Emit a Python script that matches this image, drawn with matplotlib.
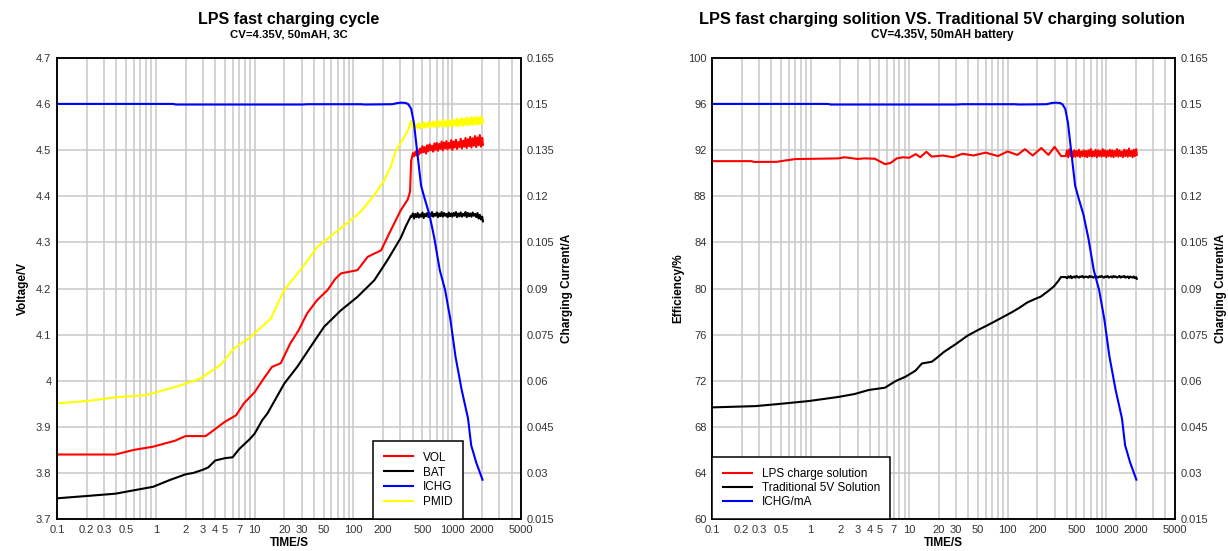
import numpy as np
import matplotlib
matplotlib.use("Agg")
import matplotlib.pyplot as plt
from matplotlib.ticker import LogLocator, NullFormatter

plt.rcParams['font.family'] = ['Liberation Sans', 'DejaVu Sans']

# ---- data ----
# shared charge current (A)
t_ichg = [0.1, 1.5, 1.6, 30, 35, 120, 130, 250, 280, 310, 340, 360, 385, 410, 445, 485,
          525, 590, 660, 750, 850, 960, 1080, 1250, 1450, 1560, 1750, 2030]
ichg = [0.1501, 0.1501, 0.1499, 0.1499, 0.1500, 0.1500, 0.1499, 0.1500, 0.1504, 0.1505,
        0.1504, 0.1500, 0.1485, 0.1440, 0.1340, 0.1235, 0.1195, 0.1140, 0.1065, 0.0960,
        0.0895, 0.0800, 0.0680, 0.0570, 0.0477, 0.0390, 0.0335, 0.0278]

# time points of the noisy plateau part (s)
t_tail = [390, 401, 412, 424, 436, 448, 461, 474, 487, 501,
          515, 530, 545, 560, 576, 592, 609, 626, 644, 662,
          681, 700, 720, 740, 761, 783, 805, 828, 851, 875,
          900, 925, 951, 978, 1006, 1034, 1063, 1093, 1124, 1156,
          1189, 1222, 1257, 1292, 1329, 1366, 1405, 1445, 1485, 1527,
          1570, 1615, 1660, 1707, 1755, 1805, 1856, 1908, 1962, 2017,
          2050]

# left chart (V)
t_vol = [0.1, 0.39, 0.6, 0.94, 1.57, 2.0, 3.2, 3.87, 5.0, 5.7, 6.5, 7.8, 10, 12.4, 15,
         18.4, 23, 28, 34, 43, 55, 65, 75, 110, 140, 191, 240, 302, 355, 375, 385]
vol = [3.840, 3.840, 3.850, 3.857, 3.870, 3.880, 3.880, 3.893, 3.911, 3.918, 3.925, 3.951,
       3.975, 4.005, 4.030, 4.038, 4.081, 4.110, 4.146, 4.175, 4.197, 4.220, 4.233, 4.240,
       4.269, 4.283, 4.327, 4.370, 4.393, 4.410, 4.478]
vol_tail = [4.482, 4.494, 4.487, 4.497, 4.489, 4.501, 4.491, 4.504, 4.494, 4.509,
            4.496, 4.507, 4.493, 4.511, 4.498, 4.513, 4.500, 4.510, 4.497, 4.515,
            4.501, 4.516, 4.499, 4.514, 4.503, 4.519, 4.500, 4.517, 4.504, 4.520,
            4.502, 4.516, 4.505, 4.522, 4.501, 4.519, 4.506, 4.523, 4.503, 4.518,
            4.507, 4.525, 4.504, 4.521, 4.508, 4.527, 4.505, 4.524, 4.509, 4.529,
            4.506, 4.526, 4.510, 4.531, 4.507, 4.528, 4.511, 4.533, 4.508, 4.527,
            4.512]

t_bat = [0.1, 0.2, 0.39, 0.94, 1.4, 2.0, 2.4, 3.0, 3.4, 4.0, 5.0, 6.0, 7.0, 9.0, 10.0,
         12.0, 13.5, 20, 27, 37, 50.5, 75, 110, 163, 222, 302, 341, 384]
bat = [3.745, 3.750, 3.755, 3.770, 3.785, 3.797, 3.800, 3.807, 3.812, 3.827, 3.832, 3.834,
       3.852, 3.874, 3.885, 3.915, 3.929, 3.994, 4.030, 4.074, 4.117, 4.153, 4.182, 4.218,
       4.262, 4.310, 4.336, 4.358]
bat_tail = [4.356, 4.363, 4.352, 4.362, 4.355, 4.364, 4.354, 4.361, 4.356, 4.365,
            4.353, 4.362, 4.357, 4.364, 4.355, 4.363, 4.357, 4.366, 4.356, 4.362,
            4.358, 4.365, 4.355, 4.363, 4.357, 4.366, 4.356, 4.364, 4.358, 4.362,
            4.355, 4.365, 4.357, 4.363, 4.356, 4.364, 4.358, 4.366, 4.355, 4.363,
            4.357, 4.365, 4.356, 4.362, 4.358, 4.366, 4.355, 4.364, 4.357, 4.363,
            4.356, 4.365, 4.358, 4.362, 4.355, 4.364, 4.352, 4.360, 4.350, 4.356,
            4.346]

t_pmid = [0.1, 0.2, 0.39, 0.81, 1.78, 2.83, 4.5, 6.2, 9.1, 14.6, 20, 29, 43, 64, 90, 119,
          163, 205, 240, 270, 300, 329, 360, 384]
pmid = [3.951, 3.956, 3.964, 3.969, 3.990, 4.005, 4.034, 4.070, 4.095, 4.135, 4.197, 4.240,
        4.290, 4.320, 4.345, 4.367, 4.403, 4.435, 4.465, 4.500, 4.515, 4.529, 4.545, 4.564]
pmid_tail = [4.560, 4.548, 4.557, 4.546, 4.555, 4.549, 4.559, 4.547, 4.557, 4.550,
             4.561, 4.549, 4.558, 4.551, 4.562, 4.550, 4.559, 4.552, 4.563, 4.550,
             4.561, 4.553, 4.565, 4.551, 4.562, 4.553, 4.566, 4.552, 4.563, 4.551,
             4.566, 4.553, 4.564, 4.552, 4.567, 4.554, 4.565, 4.553, 4.569, 4.552,
             4.567, 4.555, 4.570, 4.553, 4.568, 4.556, 4.571, 4.554, 4.569, 4.556,
             4.572, 4.555, 4.570, 4.557, 4.573, 4.556, 4.571, 4.557, 4.574, 4.558,
             4.566]

# right chart (efficiency %)
t_lps = [0.1, 0.25, 0.27, 0.45, 0.7, 1.93, 2.2, 3.0, 3.5, 4.5, 5.7, 6.5, 7.5, 8.7, 10,
         11.7, 13, 15, 17, 22, 28, 35, 45, 60, 80, 100, 126, 150, 180, 220, 260, 300, 350]
lps = [91.06, 91.06, 90.99, 91.00, 91.24, 91.30, 91.40, 91.25, 91.30, 91.27, 90.80, 90.90,
       91.30, 91.40, 91.35, 91.67, 91.40, 91.87, 91.45, 91.55, 91.40, 91.70, 91.55, 91.80,
       91.50, 91.90, 91.60, 92.10, 91.55, 92.20, 91.60, 92.30, 91.50]
lps_tail = [91.5, 92.0, 91.4, 92.1, 91.5, 91.9, 91.4, 92.0, 91.45, 91.95,
            91.5, 92.05, 91.4, 91.9, 91.5, 92.0, 91.45, 91.95, 91.4, 92.0,
            91.5, 92.1, 91.45, 91.9, 91.5, 92.05, 91.4, 92.0, 91.5, 91.95,
            91.45, 92.1, 91.5, 92.0, 91.4, 91.95, 91.5, 92.05, 91.45, 92.0,
            91.4, 91.95, 91.5, 92.1, 91.45, 92.0, 91.5, 91.9, 91.4, 92.05,
            91.5, 92.0, 91.45, 92.15, 91.5, 91.95, 91.4, 92.05, 91.5, 92.1,
            91.6]

t_trad = [0.1, 0.275, 0.47, 0.96, 1.93, 2.8, 3.9, 5.7, 7.3, 9.2, 11.6, 13.5, 17, 18.6, 22.6,
          30, 39, 50, 62, 80, 108, 130, 159, 190, 217, 260, 296, 330, 348]
trad = [69.69, 69.80, 69.98, 70.24, 70.60, 70.85, 71.20, 71.40, 71.97, 72.35, 72.87, 73.50,
        73.65, 73.90, 74.50, 75.20, 75.90, 76.40, 76.80, 77.30, 77.90, 78.30, 78.80, 79.10,
        79.30, 79.80, 80.20, 80.70, 81.00]
trad_tail = [81.0, 80.9, 81.05, 80.95, 81.1, 80.9, 81.0, 81.05, 80.95, 81.1,
             81.0, 80.95, 81.05, 81.0, 81.1, 80.95, 81.0, 81.05, 81.0, 80.95,
             81.1, 81.0, 81.05, 80.95, 81.0, 81.1, 81.0, 80.95, 81.05, 81.0,
             81.1, 81.0, 80.95, 81.05, 81.0, 81.1, 80.95, 81.0, 81.05, 80.95,
             81.1, 81.0, 81.05, 80.95, 81.0, 81.1, 80.95, 81.05, 81.0, 81.1,
             80.95, 81.0, 81.05, 80.9, 81.05, 81.0, 80.95, 81.05, 80.9, 81.0,
             80.85]

xtick_vals = [0.1, 0.2, 0.3, 0.5, 1, 2, 3, 4, 5, 7, 10, 20, 30, 50, 100, 200, 500, 1000, 2000, 5000]
xtick_labels = ['0.1', '0.2', '0.3', '0.5', '1', '2', '3', '4', '5', '7', '10', '20', '30', '50',
                '100', '200', '500', '1000', '2000', '5000']
cur_ticks = [0.015, 0.03, 0.045, 0.06, 0.075, 0.09, 0.105, 0.12, 0.135, 0.15, 0.165]
cur_labels = ['0.015', '0.03', '0.045', '0.06', '0.075', '0.09', '0.105', '0.12', '0.135', '0.15', '0.165']
volt_ticks = [3.7, 3.8, 3.9, 4.0, 4.1, 4.2, 4.3, 4.4, 4.5, 4.6, 4.7]
volt_labels = ['3.7', '3.8', '3.9', '4', '4.1', '4.2', '4.3', '4.4', '4.5', '4.6', '4.7']
eff_ticks = [60, 64, 68, 72, 76, 80, 84, 88, 92, 96, 100]

GRID = '#c8c8c8'
TXT = '#333333'
LW = 1.5


def style(ax, ax2, yt, ylab, ylim):
    ax.set_xscale('log')
    ax.set_xlim(0.1, 5000)
    ax.set_ylim(*ylim)
    ax.set_xticks(xtick_vals)
    ax.set_xticklabels(xtick_labels)
    ax.xaxis.set_minor_locator(LogLocator(base=10, subs=np.arange(1, 10), numticks=20))
    ax.xaxis.set_minor_formatter(NullFormatter())
    ax.set_yticks(yt)
    ax.set_yticklabels(ylab)
    ax.grid(True, which='both', color=GRID, linewidth=1.1)
    ax.set_axisbelow(True)
    ax.tick_params(which='both', length=0, labelsize=8, colors=TXT, pad=4)
    ax2.set_ylim(0.015, 0.165)
    ax2.set_yticks(cur_ticks)
    ax2.set_yticklabels(cur_labels)
    ax2.tick_params(length=0, labelsize=8, colors=TXT, pad=4)
    for a in (ax, ax2):
        for s in a.spines.values():
            s.set_linewidth(1.1)
            s.set_color('black')
    ax.set_xlabel('TIME/S', fontsize=8.5, fontweight='bold', labelpad=2)
    ax2.set_ylabel('Charging Current/A', fontsize=8.5, fontweight='bold', labelpad=5)


fig = plt.figure(figsize=(12.28, 5.51), dpi=100)
axL = fig.add_axes([0.0464, 0.058, 0.378, 0.8365])
axL2 = axL.twinx()
axR = fig.add_axes([0.5798, 0.058, 0.377, 0.8365])
axR2 = axR.twinx()

# left chart
axL.plot(t_pmid + t_tail, pmid + pmid_tail, color='#ffff00', lw=LW, label='PMID')
axL.plot(t_vol + t_tail, vol + vol_tail, color='#ff0000', lw=LW, label='VOL')
axL.plot(t_bat + t_tail, bat + bat_tail, color='black', lw=LW, label='BAT')
axL2.plot(t_ichg, ichg, color='#0000ff', lw=LW, label='ICHG')
style(axL, axL2, volt_ticks, volt_labels, (3.7, 4.7))
axL.set_ylabel('Voltage/V', fontsize=8.5, fontweight='bold', labelpad=5)

hL = {l.get_label(): l for l in axL.get_lines() + axL2.get_lines()}
leg = axL2.legend([hL['VOL'], hL['BAT'], hL['ICHG'], hL['PMID']], ['VOL', 'BAT', 'ICHG', 'PMID'],
                  loc='lower left', bbox_to_anchor=(0.681, 0.0), borderaxespad=0, fontsize=8.5,
                  fancybox=False, framealpha=1, edgecolor='black', handlelength=2.5,
                  borderpad=0.9, labelspacing=0.25, handletextpad=0.8)
leg.get_frame().set_linewidth(1.1)

# right chart
axR.plot(t_lps + t_tail, lps + lps_tail, color='#ff0000', lw=LW, label='LPS charge solution')
axR.plot(t_trad + t_tail, trad + trad_tail, color='black', lw=LW, label='Traditional 5V Solution')
axR2.plot(t_ichg, ichg, color='#0000ff', lw=LW, label='ICHG/mA')
style(axR, axR2, eff_ticks, [str(v) for v in eff_ticks], (60, 100))
axR.set_ylabel('Efficiency/%', fontsize=8.5, fontweight='bold', labelpad=3)

hR = axR.get_lines() + axR2.get_lines()
leg2 = axR2.legend(hR, [l.get_label() for l in hR], loc='lower left', bbox_to_anchor=(0.0, 0.0),
                   borderaxespad=0, fontsize=8.5, fancybox=False, framealpha=1, edgecolor='black',
                   handlelength=2.5, borderpad=0.9, labelspacing=0.2, handletextpad=0.8)
leg2.get_frame().set_linewidth(1.1)

# titles
fig.text(0.235, 0.965, 'LPS fast charging cycle', ha='center', va='center',
         fontsize=11.5, fontweight='bold')
fig.text(0.235, 0.937, 'CV=4.35V, 50mAH, 3C', ha='center', va='center',
         fontsize=8.2, fontweight='bold')
fig.text(0.767, 0.965, 'LPS fast charging solition VS. Traditional 5V charging solution',
         ha='center', va='center', fontsize=11.8, fontweight='bold')
fig.text(0.767, 0.937, 'CV=4.35V, 50mAH battery', ha='center', va='center',
         fontsize=8.5, fontweight='bold')

fig.savefig('out.png', dpi=100)
